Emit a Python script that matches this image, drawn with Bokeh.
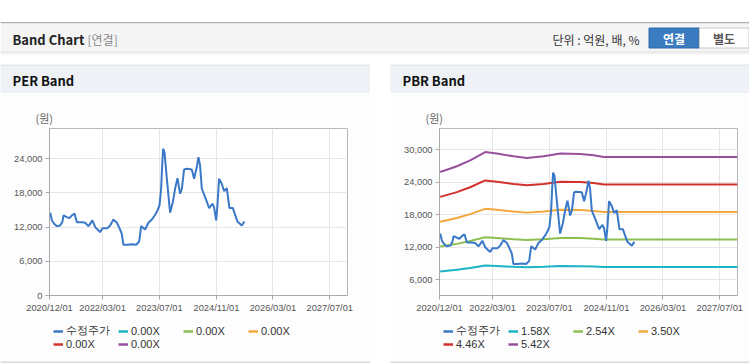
import pandas as pd
from bokeh.plotting import figure
from bokeh.layouts import column, row
from bokeh.models import (Range1d, FixedTicker, NumeralTickFormatter, DatetimeTickFormatter,
                          Legend, LegendItem, Label)
from bokeh.core.properties import value
from bokeh.embed import file_html
from bokeh.resources import INLINE

# ------------------------------------------------------------------ data
price_label = "수정주가"
price_dates = [
    "2020-12-07", "2020-12-22", "2021-01-10", "2021-02-02", "2021-03-03", "2021-03-22",
    "2021-03-31", "2021-04-29", "2021-05-21", "2021-06-11", "2021-07-03", "2021-07-24",
    "2021-09-05", "2021-10-03", "2021-10-31", "2021-12-04", "2021-12-28", "2022-01-25",
    "2022-02-08", "2022-02-28", "2022-04-12", "2022-05-05", "2022-06-02", "2022-07-02",
    "2022-07-24", "2022-08-13", "2022-08-27", "2022-10-04", "2022-11-07", "2022-12-14",
    "2023-01-09", "2023-01-26", "2023-03-01", "2023-03-29", "2023-04-28", "2023-05-26",
    "2023-06-15", "2023-07-02", "2023-07-16", "2023-07-25", "2023-08-02", "2023-08-14",
    "2023-09-03", "2023-10-01", "2023-10-24", "2023-11-13", "2023-12-03", "2023-12-26",
    "2024-01-10", "2024-01-29", "2024-02-21", "2024-04-04", "2024-04-24", "2024-05-17",
    "2024-05-31", "2024-06-14", "2024-06-29", "2024-07-27", "2024-08-31", "2024-09-28",
    "2024-10-12", "2024-10-30", "2024-11-10", "2024-11-24", "2024-12-17", "2025-01-06",
    "2025-01-29", "2025-02-21", "2025-03-22", "2025-04-30", "2025-06-07", "2025-06-29",
]
price_values = [
    14520, 13170, 12590, 12170, 12290, 12990, 14050, 13750, 13570, 14050, 14400, 12870,
    12870, 12760, 12170, 13170, 11990, 11410, 11110, 11820, 11820, 12290, 13340, 12760,
    11820, 10830, 8900, 8900, 9010, 8900, 9480, 12170, 11590, 12760, 13340, 14170,
    14920, 15800, 18730, 22820, 25750, 25160, 20490, 14520, 16380, 18730, 20590, 17850,
    18730, 22120, 22240, 22120, 20490, 22530, 24280, 22820, 18730, 17260, 15330, 16100,
    15500, 13170, 15800, 20490, 19610, 18310, 18840, 15330, 15330, 12990, 12290, 12990,
]

band_dates = ["2020-12-07", "2021-04-29", "2021-08-21", "2021-12-28", "2022-04-07", "2022-08-28",
              "2022-12-21", "2023-05-13", "2023-10-03", "2024-03-23", "2024-07-15", "2024-10-09",
              "2027-11-30"]
pbr_band_1 = [7537, 7848, 8169, 8611, 8532, 8383, 8295, 8383, 8532, 8508, 8439, 8346, 8346]
pbr_band_2 = [12116, 12616, 13132, 13843, 13716, 13477, 13335, 13477, 13716, 13678, 13566, 13416, 13416]
pbr_band_3 = [16695, 17385, 18095, 19075, 18900, 18571, 18375, 18571, 18900, 18848, 18694, 18487, 18487]
pbr_band_4 = [21274, 22153, 23058, 24307, 24084, 23665, 23415, 23665, 24084, 24017, 23821, 23558, 23558]
pbr_band_5 = [25853, 26921, 28021, 29539, 29268, 28759, 28455, 28759, 29268, 29187, 28948, 28628, 28628]
pbr_band_labels = ["1.58X", "2.54X", "3.50X", "4.46X", "5.42X"]
per_band_labels = ["0.00X", "0.00X", "0.00X", "0.00X", "0.00X"]

x_tick_dates = ["2020-12-01", "2022-03-01", "2023-07-01", "2024-11-01", "2026-03-01", "2027-07-01"]
x_start, x_end = "2020-12-01", "2027-11-30"
per_y_ticks = [0, 6000, 12000, 18000, 24000]
pbr_y_ticks = [6000, 12000, 18000, 24000, 30000]

assert len(price_dates) == len(price_values)

# ------------------------------------------------------------------ styles
KR = "Noto Sans CJK KR"
NUM = "Liberation Sans"
PRICE_COLOR = "#3a78c8"
BAND_COLORS = ["#1db3c6", "#8cbf50", "#f4a83c", "#d2322d", "#984f9c"]
BODY = "#fdfdfd"
NAN = float("nan")


def dt(s):
    return pd.to_datetime(s)


def deco_fig(width, height, x0, y0, bg, **kw):
    p = figure(width=width, height=height, x_range=Range1d(x0, x0 + width),
               y_range=Range1d(y0 + height, y0), x_axis_type=None, y_axis_type=None,
               output_backend="svg", toolbar_location=None, tools="", min_border=0,
               frame_align=False, **kw)
    p.outline_line_color = None
    p.background_fill_color = bg
    p.border_fill_color = bg
    return p


def label(p, x, y, text, size="12px", color="#333", bold=False, align="left", font=KR):
    p.add_layout(Label(x=x, y=y, text=text, text_font=font, text_font_size=size,
                       text_color=color, text_font_style="bold" if bold else "normal",
                       text_align=align, text_baseline="middle"))


# ------------------------------------------------------------------ header
header = deco_fig(749, 64, 0, 0, "white")
header.quad(left=[0], right=[749], top=[21.5], bottom=[23], fill_color="#b0b0b0", line_color=None)
header.quad(left=[0], right=[749], top=[23], bottom=[51], fill_color="#f5f5f5", line_color=None)
header.quad(left=[0, 0, 0], right=[749, 749, 749], top=[51, 52, 53], bottom=[52, 53, 54],
            fill_color=["#dadada", "#e8e8e8", "#f4f4f4"], line_color=None)
label(header, 12, 38.5, "Band Chart", size="13px", color="#222", bold=True)
label(header, 87, 38.5, "[연결]", size="12px", color="#8a8a8a")
label(header, 552, 38.5, "단위 : 억원, 배, %", size="12px", color="#333")
header.quad(left=[648.5], right=[699], top=[27.5], bottom=[47.5], fill_color="#3b7cc0",
            line_color="#2d68a8")
header.quad(left=[699], right=[748.5], top=[27.5], bottom=[47.5], fill_color="white",
            line_color="#c8c8c8")
label(header, 673.5, 37.5, "연결", size="12px", color="white", bold=True, align="center")
label(header, 723.5, 37.5, "별도", size="12px", color="#555", bold=True, align="center")


# ------------------------------------------------------------------ panels
def panel_head(width, x0, title):
    p = deco_fig(width, 29, x0, 64, "#eef2f7")
    p.quad(left=[x0], right=[x0 + width], top=[64], bottom=[65], fill_color="#dcdcdc",
           line_color=None)
    label(p, x0 + 12, 80, title, size="13px", color="#111", bold=True)
    return p


def panel_foot(width, x0):
    p = deco_fig(width, 14, x0, 350, BODY)
    p.quad(left=[x0], right=[x0 + width], top=[361], bottom=[362.5], fill_color="#d8d8d8",
           line_color=None)
    p.quad(left=[x0], right=[x0 + width], top=[362.5], bottom=[364], fill_color="white",
           line_color=None)
    return p


def chart(width, b_left, b_right, y_lo, y_hi, y_ticks, band_values):
    p = figure(width=width, height=230, x_axis_type="datetime", output_backend="svg",
               toolbar_location=None, tools="", frame_align=False,
               x_range=Range1d(dt(x_start), dt(x_end)), y_range=Range1d(y_lo, y_hi),
               min_border_left=b_left, min_border_right=b_right,
               min_border_top=35, min_border_bottom=28)
    p.background_fill_color = "white"
    p.border_fill_color = BODY
    p.outline_line_color = "#b8b8b8"
    p.title.text = "(원)"
    p.title.align = "left"
    p.title.offset = -14
    p.title.standoff = 5
    p.title.text_font = KR
    p.title.text_font_size = "11px"
    p.title.text_font_style = "normal"
    p.title.text_color = "#666"

    p.xaxis.ticker = FixedTicker(ticks=[dt(d).value // 10**6 for d in x_tick_dates])
    fmt = "%Y/%m/%d"
    p.xaxis.formatter = DatetimeTickFormatter(days=fmt, months=fmt, years=fmt)
    p.yaxis.ticker = FixedTicker(ticks=y_ticks)
    p.yaxis.formatter = NumeralTickFormatter(format="0,0")
    for ax in (p.xaxis[0], p.yaxis[0]):
        ax.axis_line_color = "#aaaaaa"
        ax.major_tick_line_color = "#aaaaaa"
        ax.major_tick_out = 4
        ax.major_tick_in = 0
        ax.minor_tick_out = 0
        ax.minor_tick_in = 0
        ax.major_label_text_font = NUM
        ax.major_label_text_font_size = "9.3px"
        ax.major_label_text_color = "#555"
        ax.major_label_standoff = 3
    p.xgrid.grid_line_color = "#e6e6e6"
    p.ygrid.grid_line_color = "#e6e6e6"

    for vals, color in zip(band_values, BAND_COLORS):
        if vals:
            p.line(x=[dt(d) for d in band_dates], y=vals, line_color=color, line_width=2)
    p.line(x=[dt(d) for d in price_dates], y=price_values, line_color=PRICE_COLOR, line_width=2)
    return p


def make_legend(p, labels, colors, location):
    items = []
    for lab, color in zip(labels, colors):
        r = p.line(x=[NAN], y=[NAN], line_color=color, line_width=2.5)
        items.append(LegendItem(label=value(lab), renderers=[r]))
    return Legend(items=items, orientation="horizontal", location=location, margin=0,
                  padding=0, spacing=0, glyph_width=10, glyph_height=10, label_height=13,
                  label_width=52, label_standoff=3, label_text_font=NUM,
                  label_text_font_size="11px", label_text_color="#333",
                  border_line_color=None, background_fill_alpha=0)


def legend_fig(width, x0, band_labels):
    labels = [price_label] + band_labels
    colors = [PRICE_COLOR] + BAND_COLORS
    p = deco_fig(width, 27, x0, 323, BODY, min_border_left=53)
    p.add_layout(make_legend(p, labels[:4], colors[:4], "top_left"), "center")
    p.add_layout(make_legend(p, labels[4:], colors[4:], "bottom_left"), "center")
    return p


left_chart = chart(370, 49, 23, 0, 29300, per_y_ticks, [[], [], [], [], []])
right_chart = chart(359, 49, 12, 3100, 33880, pbr_y_ticks,
                    [pbr_band_1, pbr_band_2, pbr_band_3, pbr_band_4, pbr_band_5])

left_col = column(panel_head(370, 0, "PER Band"), left_chart,
                  legend_fig(370, 0, per_band_labels), panel_foot(370, 0), spacing=0)
gap = deco_fig(20, 300, 370, 64, "white")
right_col = column(panel_head(359, 390, "PBR Band"), right_chart,
                   legend_fig(359, 390, pbr_band_labels), panel_foot(359, 390), spacing=0)

page = column(header, row(left_col, gap, right_col, spacing=0), spacing=0)

open("out.html", "w").write(file_html(page, INLINE))
